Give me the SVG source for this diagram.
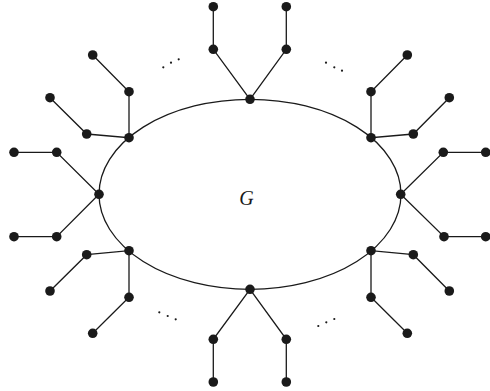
<svg xmlns="http://www.w3.org/2000/svg" width="490" height="391" viewBox="0 0 490 391">
<style>
.e{stroke:#1a1a1a;stroke-width:1.3;fill:none}
.n{fill:#1a1a1a}
.d{fill:#1a1a1a}
.lbl{font-family:"Liberation Serif",serif;font-style:italic;font-size:20px;fill:#1a1a1a}
</style>
<rect width="490" height="391" fill="#fff"/>
<g id="connectors">
<ellipse class="e" cx="250" cy="194.3" rx="151" ry="95"/>
<path class="e" d="M213.3,6.7V49.3L250,99.3L286.3,49.3V6.7"/>
<path class="e" d="M92.7,55L129,91.7V137.7L86.7,134L50,97.7"/>
<path class="e" d="M14,152.3H56.7L99,194.3L56.7,236.7H14"/>
<path class="e" d="M50,291L86.7,254.7L129,250.7V297.3L92.7,333.3"/>
<path class="e" d="M213.3,382V339.3L250,289.3L286.3,339.3V382"/>
<path class="e" d="M407.3,55L371,91.7V137.7L413.3,134L449.3,97.7"/>
<path class="e" d="M485.7,152.3H443.3L400.7,194.3L444,236.7H485.7"/>
<path class="e" d="M449.3,291L413.3,254.7L371,250.7V297.3L407.3,333.3"/>
</g>
<g id="nodes">
<g id="n_top" class="n"><circle cx="250" cy="99.3" r="4.8"/><circle cx="213.3" cy="49.3" r="4.8"/><circle cx="213.3" cy="6.7" r="4.8"/><circle cx="286.3" cy="49.3" r="4.8"/><circle cx="286.3" cy="6.7" r="4.8"/></g>
<g id="n_tl" class="n"><circle cx="129" cy="137.7" r="4.8"/><circle cx="129" cy="91.7" r="4.8"/><circle cx="92.7" cy="55" r="4.8"/><circle cx="86.7" cy="134" r="4.8"/><circle cx="50" cy="97.7" r="4.8"/></g>
<g id="n_left" class="n"><circle cx="99" cy="194.3" r="4.8"/><circle cx="56.7" cy="152.3" r="4.8"/><circle cx="14" cy="152.3" r="4.8"/><circle cx="56.7" cy="236.7" r="4.8"/><circle cx="14" cy="236.7" r="4.8"/></g>
<g id="n_bl" class="n"><circle cx="129" cy="250.7" r="4.8"/><circle cx="86.7" cy="254.7" r="4.8"/><circle cx="50" cy="291" r="4.8"/><circle cx="129" cy="297.3" r="4.8"/><circle cx="92.7" cy="333.3" r="4.8"/></g>
<g id="n_bottom" class="n"><circle cx="250" cy="289.3" r="4.8"/><circle cx="213.3" cy="339.3" r="4.8"/><circle cx="213.3" cy="382" r="4.8"/><circle cx="286.3" cy="339.3" r="4.8"/><circle cx="286.3" cy="382" r="4.8"/></g>
<g id="n_tr" class="n"><circle cx="371" cy="137.7" r="4.8"/><circle cx="371" cy="91.7" r="4.8"/><circle cx="407.3" cy="55" r="4.8"/><circle cx="413.3" cy="134" r="4.8"/><circle cx="449.3" cy="97.7" r="4.8"/></g>
<g id="n_right" class="n"><circle cx="400.7" cy="194.3" r="4.8"/><circle cx="443.3" cy="152.3" r="4.8"/><circle cx="485.7" cy="152.3" r="4.8"/><circle cx="444" cy="236.7" r="4.8"/><circle cx="485.7" cy="236.7" r="4.8"/></g>
<g id="n_br" class="n"><circle cx="371" cy="250.7" r="4.8"/><circle cx="413.3" cy="254.7" r="4.8"/><circle cx="449.3" cy="291" r="4.8"/><circle cx="371" cy="297.3" r="4.8"/><circle cx="407.3" cy="333.3" r="4.8"/></g>
<g id="n_G"><text class="lbl" x="246.5" y="205" text-anchor="middle">G</text></g>
</g>
<g id="ellipses" class="d">
<circle cx="163.3" cy="67.3" r="1.1"/><circle cx="171" cy="62.7" r="1.1"/><circle cx="178.7" cy="59.3" r="1.1"/>
<circle cx="326" cy="62.7" r="1.1"/><circle cx="334.3" cy="67.3" r="1.1"/><circle cx="342" cy="70.7" r="1.1"/>
<circle cx="159.3" cy="312.3" r="1.1"/><circle cx="167.7" cy="316" r="1.1"/><circle cx="175.7" cy="319.3" r="1.1"/>
<circle cx="318.3" cy="326" r="1.1"/><circle cx="326.3" cy="322.3" r="1.1"/><circle cx="334.3" cy="319" r="1.1"/>
</g>
</svg>
